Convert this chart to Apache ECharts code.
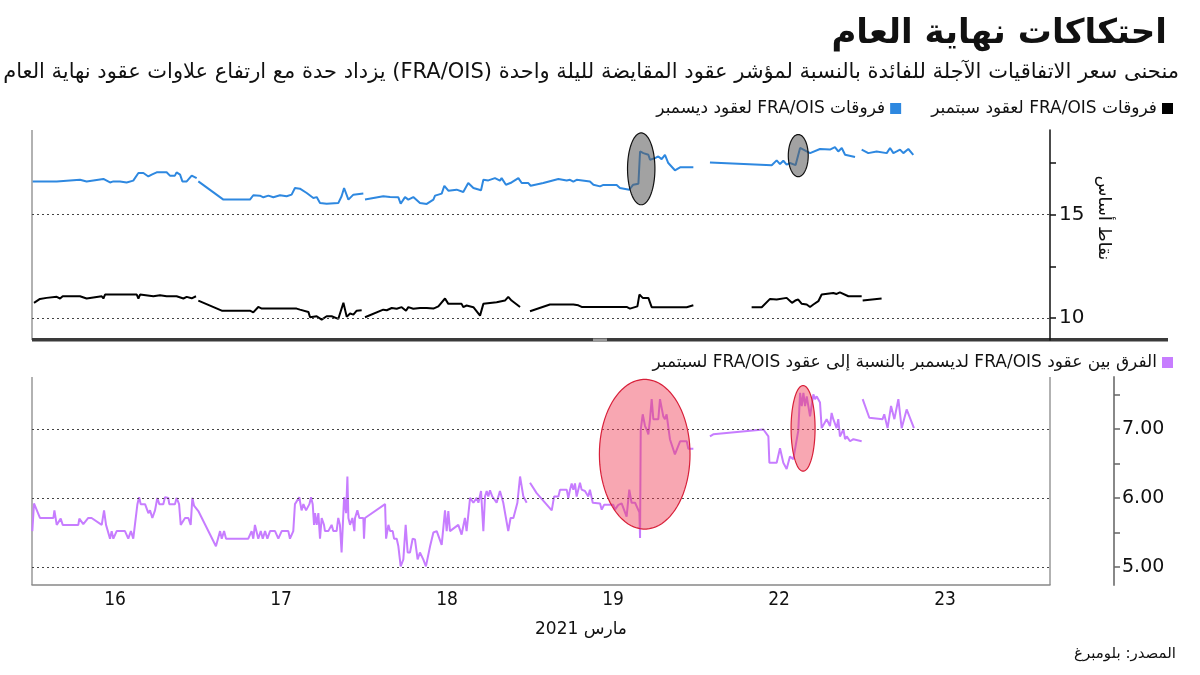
<!DOCTYPE html>
<html dir="rtl">
<head>
<meta charset="utf-8">
<script src="https://cdn.jsdelivr.net/npm/echarts@6/dist/echarts.min.js"></script>
<style>html,body{margin:0;padding:0;background:#fff}#c{width:1200px;height:675px}</style>
</head>
<body>
<div id="c"></div>
<script>
// x = trading-day index (day i spans [i, i+1]); days shown: 16,17,18,19,22,23 March 2021
const dayLabels = ['16', '17', '18', '19', '22', '23'];
const topTicks = [10, 15];
const topMinorTicks = [10, 12.5, 15, 17.5];
const bottomTicks = [5, 6, 7];
const bottomMinorTicks = [5, 5.5, 6, 6.5, 7, 7.5];

const sepName = 'فروقات FRA/OIS لعقود سبتمبر';
const decName = 'فروقات FRA/OIS لعقود ديسمبر';
const diffName = 'الفرق بين عقود FRA/OIS لديسمبر بالنسبة إلى عقود FRA/OIS لسبتمبر';

// December FRA/OIS spread (blue)
const decT = [0.004,0.129,0.139,0.149,0.289,0.329,0.430,0.470,0.490,0.530,0.570,0.610,0.641,0.671,0.701,0.721,0.751,0.811,0.831,0.861,0.871,0.892,0.906,0.932,0.962,0.992,0.996,
 1.002,1.153,1.313,1.333,1.373,1.394,1.424,1.454,1.494,1.534,1.564,1.584,1.614,1.655,1.695,1.715,1.735,1.775,1.845,1.865,1.880,1.906,1.936,1.996,2.000,
 2.006,2.116,2.157,2.207,2.221,2.247,2.267,2.297,2.337,2.378,2.418,2.428,2.468,2.484,2.508,2.558,2.598,2.628,2.659,2.705,2.719,2.749,2.789,2.819,2.829,2.855,2.889,2.930,2.950,2.990,
 3.004,3.080,3.171,3.221,3.241,3.261,3.281,3.361,3.382,3.422,3.442,3.522,3.542,3.552,3.598,3.622,3.653,3.663,3.683,3.713,3.723,3.753,3.773,3.793,3.813,3.833,3.873,3.904,3.984,3.995,
 4.084,4.456,4.486,4.506,4.526,4.546,4.566,4.600,4.627,4.637,4.687,4.747,4.807,4.837,4.857,4.878,4.898,4.958,4.975,
 4.998,5.038,5.088,5.149,5.169,5.189,5.209,5.229,5.249,5.279,5.309];
const decV = [16.61,16.61,16.69,16.61,16.69,16.61,16.73,16.56,16.61,16.61,16.56,16.65,17.02,17.02,16.85,16.94,17.05,17.05,16.89,16.89,17.05,16.94,16.61,16.61,16.89,16.77,null,
 16.61,15.73,15.73,15.94,15.92,15.84,15.92,15.84,15.94,15.89,15.97,16.29,16.26,16.05,15.81,15.85,15.56,15.53,15.56,15.89,16.29,15.73,15.97,16.02,null,
 15.73,15.89,15.85,15.84,15.53,15.85,15.73,15.85,15.56,15.52,15.73,15.92,16.02,16.40,16.16,16.21,16.10,16.53,16.29,16.18,16.69,16.66,16.77,16.65,16.77,16.45,16.56,16.77,16.53,16.53,
 16.40,16.53,16.73,16.65,16.69,16.60,16.69,16.61,16.45,16.37,16.44,16.44,16.29,16.37,16.21,16.45,16.50,18.06,17.98,17.90,17.66,17.74,17.82,17.69,17.90,17.50,17.15,17.29,17.29,null,
 17.53,17.39,17.63,17.45,17.61,17.42,17.50,17.40,18.23,18.18,17.98,18.18,18.15,18.27,18.06,18.23,17.90,17.79,null,
 18.15,17.98,18.06,17.98,18.23,17.98,18.06,18.15,17.98,18.18,17.90];

// September FRA/OIS spread (black)
const sepT = [0.012,0.048,0.088,0.149,0.169,0.185,0.289,0.329,0.420,0.430,0.440,0.631,0.641,0.651,0.731,0.771,0.811,0.871,0.912,0.932,0.962,0.988,0.995,
 1.002,1.143,1.313,1.333,1.363,1.384,1.594,1.614,1.665,1.675,1.715,1.745,1.775,1.805,1.845,1.876,1.896,1.916,1.936,1.956,1.986,1.996,
 2.006,2.116,2.137,2.167,2.197,2.227,2.253,2.267,2.297,2.337,2.378,2.418,2.448,2.488,2.508,2.588,2.598,2.618,2.659,2.699,2.719,2.799,2.849,2.869,2.889,2.940,2.950,
 3.000,3.120,3.261,3.271,3.291,3.311,3.582,3.602,3.647,3.659,3.679,3.713,3.733,3.803,3.813,3.823,3.944,3.954,3.984,3.990,
 4.335,4.396,4.446,4.486,4.546,4.578,4.598,4.616,4.636,4.667,4.687,4.707,4.737,4.757,4.827,4.847,4.867,4.918,4.998,5.000,
 5.004,5.118];
const sepV = [10.73,10.92,10.97,11.02,10.94,11.05,11.05,10.94,11.05,10.94,11.13,11.13,10.94,11.13,11.05,11.10,11.05,11.05,10.94,11.02,10.95,11.05,null,
 10.84,10.35,10.35,10.27,10.53,10.45,10.45,10.40,10.29,10.03,10.08,9.92,10.08,10.08,9.95,10.73,10.05,10.21,10.16,10.35,10.37,null,
 10.03,10.40,10.37,10.48,10.44,10.52,10.35,10.52,10.44,10.48,10.48,10.45,10.56,10.94,10.68,10.68,10.52,10.60,10.52,10.11,10.68,10.76,10.84,11.02,10.84,10.53,null,
 10.32,10.65,10.65,10.56,10.61,10.53,10.53,10.45,10.56,11.13,10.97,10.97,10.52,10.52,10.61,10.52,10.52,10.61,10.61,null,
 10.52,10.52,10.92,10.89,10.97,10.73,10.84,10.89,10.69,10.65,10.53,10.65,10.81,11.13,11.21,11.16,11.24,11.05,11.05,null,
 10.84,10.94];

// December minus September (purple)
const diffT = [0.002,0.012,0.048,0.129,0.135,0.149,0.173,0.185,0.279,0.285,0.309,0.339,0.359,0.420,0.434,0.446,0.470,0.480,0.490,0.510,0.560,0.580,0.596,0.610,0.620,0.635,0.645,0.655,0.681,0.701,0.711,0.725,0.741,0.755,0.767,0.791,0.801,0.821,0.827,0.861,0.871,0.886,0.896,0.922,0.942,0.956,0.966,0.976,
 1.002,1.108,1.133,1.143,1.157,1.169,1.303,1.323,1.333,1.343,1.363,1.378,1.390,1.404,1.418,1.434,1.464,1.484,1.504,1.544,1.554,1.574,1.584,1.594,1.610,1.624,1.635,1.651,1.671,1.681,1.691,1.699,1.705,1.715,1.725,1.735,1.745,1.759,1.765,1.785,1.805,1.815,1.835,1.845,1.855,1.865,1.880,1.892,1.900,1.906,1.916,1.930,1.942,1.946,1.960,1.972,1.996,
 2.000,2.006,2.127,2.133,2.147,2.157,2.173,2.181,2.197,2.207,2.221,2.237,2.251,2.263,2.277,2.293,2.307,2.323,2.337,2.357,2.373,2.398,2.418,2.438,2.468,2.488,2.498,2.508,2.518,2.568,2.588,2.608,2.618,2.639,2.659,2.679,2.689,2.705,2.719,2.729,2.739,2.749,2.759,2.773,2.799,2.819,2.839,2.855,2.869,2.883,2.900,2.924,2.940,2.960,2.980,2.990,
 3.000,3.040,3.131,3.145,3.171,3.181,3.221,3.231,3.241,3.251,3.261,3.271,3.281,3.301,3.311,3.331,3.351,3.361,3.378,3.422,3.432,3.446,3.502,3.512,3.532,3.552,3.582,3.598,3.612,3.633,3.659,3.663,3.667,3.679,3.693,3.703,3.713,3.723,3.733,3.743,3.773,3.783,3.803,3.813,3.823,3.843,3.873,3.904,3.944,3.954,3.984,3.990,
 4.084,4.104,4.406,4.436,4.442,4.486,4.506,4.526,4.546,4.566,4.586,4.616,4.627,4.637,4.647,4.657,4.667,4.687,4.707,4.717,4.727,4.747,4.757,4.787,4.807,4.817,4.827,4.847,4.857,4.867,4.888,4.898,4.908,4.928,4.948,4.998,5.001,
 5.004,5.044,5.124,5.134,5.154,5.175,5.195,5.219,5.239,5.269,5.313];
const diffV = [5.52,5.92,5.71,5.71,5.82,5.61,5.70,5.61,5.61,5.70,5.62,5.71,5.71,5.61,5.82,5.61,5.41,5.52,5.41,5.52,5.52,5.41,5.52,5.41,5.41,5.91,6.01,5.91,5.91,5.78,5.82,5.71,5.82,6.00,5.91,5.91,6.01,6.00,5.91,5.91,6.00,5.91,5.61,5.71,5.71,5.61,6.00,5.89,
 5.81,5.30,5.52,5.41,5.52,5.41,5.41,5.52,5.41,5.61,5.41,5.52,5.41,5.52,5.41,5.52,5.52,5.41,5.52,5.52,5.41,5.52,5.91,5.91,6.01,5.82,5.91,5.82,5.91,6.01,5.91,5.61,5.78,5.61,5.78,5.41,5.71,5.61,5.52,5.52,5.61,5.52,5.52,5.71,5.61,5.21,6.01,5.78,6.31,5.71,5.61,5.71,5.52,5.71,5.82,5.71,5.71,
 5.41,5.71,5.91,5.41,5.61,5.52,5.52,5.41,5.41,5.30,5.01,5.11,5.61,5.21,5.21,5.41,5.40,5.11,5.21,5.11,5.01,5.30,5.50,5.52,5.32,5.82,5.52,5.81,5.52,5.61,5.47,5.71,5.52,6.00,5.93,6.00,5.93,6.10,5.52,6.02,6.10,6.02,6.11,6.02,5.93,6.10,5.93,5.71,5.52,5.71,5.71,5.93,6.31,6.02,5.93,null,
 6.22,6.07,5.82,6.02,6.02,6.12,6.12,6.00,6.12,6.21,6.12,6.21,6.02,6.22,6.12,6.10,6.02,6.12,5.93,5.92,5.83,5.90,5.90,5.83,5.90,5.92,5.73,6.12,5.93,5.93,5.79,5.42,6.99,7.21,7.04,6.99,6.92,7.14,7.43,7.14,7.14,7.43,7.18,7.14,7.21,6.85,6.63,6.82,6.82,6.71,6.71,null,
 6.89,6.92,6.99,6.89,6.51,6.51,6.72,6.51,6.42,6.60,6.56,6.97,7.52,7.33,7.52,7.33,7.47,7.18,7.50,7.43,7.47,7.38,7.01,7.14,7.04,7.23,7.14,7.01,7.14,6.89,6.99,6.85,6.89,6.82,6.85,6.82,null,
 7.43,7.16,7.14,7.21,7.01,7.33,7.14,7.43,7.01,7.28,7.01];

// highlight ellipses: [centre x, centre y, radius x, radius y] in data units
const grayEllipses = [[3.670, 17.22, 0.0825, 1.74], [4.616, 17.86, 0.060, 1.02]];
const redEllipses = [[3.691, 6.632, 0.273, 1.083], [4.645, 7.007, 0.0723, 0.62]];

const zip = (T, V) => T.map((t, i) => [t, V[i] == null ? '-' : V[i]]);
const AR = 'DejaVu Sans, Noto Sans, sans-serif';
const XMAX = 6.1325;

function ellipseSeries(xi, yi, data, fill, stroke) {
  return {
    type: 'custom', xAxisIndex: xi, yAxisIndex: yi, z: 5, silent: true, data: data,
    encode: { x: 0, y: 1 },
    renderItem: function (params, api) {
      const c = api.coord([api.value(0), api.value(1)]);
      const s = api.size([api.value(2), api.value(3)]);
      const pts = [];
      for (let k = 0; k < 90; k++) {
        const a = k / 90 * Math.PI * 2;
        pts.push([c[0] + s[0] * Math.cos(a), c[1] + s[1] * Math.sin(a)]);
      }
      return { type: 'polygon', shape: { points: pts }, style: { fill: fill, stroke: stroke, lineWidth: 1.2 } };
    }
  };
}
function gridMark(vals) {
  return {
    silent: true, symbol: 'none', label: { show: false }, animation: false,
    lineStyle: { color: '#444', type: [2, 3], width: 1 },
    data: vals.map(v => ({ yAxis: v }))
  };
}

const chart = echarts.init(document.getElementById('c'));
chart.setOption({
  animation: false,
  backgroundColor: '#fff',
  title: [
    { text: 'احتكاكات نهاية العام', right: 28, top: 12, textStyle: { fontFamily: AR, fontSize: 34, fontWeight: 'bold', color: '#111' } },
    { text: 'منحنى سعر الاتفاقيات الآجلة للفائدة بالنسبة لمؤشر عقود المقايضة لليلة واحدة (FRA/OIS) يزداد حدة مع ارتفاع علاوات عقود نهاية العام', right: 16, top: 57, textStyle: { fontFamily: AR, fontSize: 21, fontWeight: 'normal', color: '#111' } },
    { text: 'مارس 2021', left: 530, top: 616, textStyle: { fontFamily: AR, fontSize: 17, fontWeight: 'normal', color: '#111' } },
    { text: 'المصدر: بلومبرغ', right: 19, top: 642, textStyle: { fontFamily: AR, fontSize: 15, fontWeight: 'normal', color: '#111' } }
  ],
  legend: [
    { data: [decName, sepName], right: 22, top: 95, align: 'right', icon: 'rect', itemWidth: 11, itemHeight: 11, itemGap: 30,
      textStyle: { fontFamily: AR, fontSize: 17, color: '#111' } },
    { data: [diffName], right: 22, top: 349, align: 'right', icon: 'rect', itemWidth: 11, itemHeight: 11,
      textStyle: { fontFamily: AR, fontSize: 17, color: '#111' } }
  ],
  grid: [
    { left: 32, top: 130, width: 1018, height: 210 },
    { left: 32, top: 377, width: 1018, height: 208 }
  ],
  xAxis: [
    { gridIndex: 0, type: 'value', min: 0, max: XMAX, show: false, splitLine: { show: false } },
    { gridIndex: 1, type: 'value', min: 0, max: XMAX,
      axisLine: { show: true, onZero: false, lineStyle: { color: '#888', width: 1.5 } },
      axisTick: { show: false }, splitLine: { show: false },
      axisLabel: { customValues: dayLabels.map((d, i) => i + 0.5), formatter: v => dayLabels[Math.floor(v)],
        fontFamily: 'Liberation Sans Narrow, DejaVu Sans Condensed, sans-serif', fontSize: 19, color: '#111', margin: 6 } }
  ],
  yAxis: [
    { gridIndex: 0, type: 'value', position: 'right', min: 8.93, max: 19.1,
      axisLine: { show: true, onZero: false, lineStyle: { color: '#111', width: 1.5 } },
      axisTick: { show: true, length: 6, customValues: topMinorTicks, lineStyle: { color: '#111', width: 1.5 } },
      axisLabel: { customValues: topTicks, fontFamily: 'DejaVu Sans, sans-serif', fontSize: 20, color: '#111', margin: 9 },
      splitLine: { show: false } },
    { gridIndex: 1, type: 'value', position: 'right', offset: 64, min: 4.74, max: 7.75,
      axisLine: { show: true, onZero: false, lineStyle: { color: '#888', width: 2 } },
      axisTick: { show: true, length: 6, customValues: bottomMinorTicks, lineStyle: { color: '#666', width: 1.5 } },
      axisLabel: { customValues: bottomTicks, formatter: v => v.toFixed(2), fontFamily: 'DejaVu Sans, sans-serif', fontSize: 19, color: '#111', margin: 8 },
      splitLine: { show: false } }
  ],
  series: [
    { name: sepName, type: 'line', xAxisIndex: 0, yAxisIndex: 0, data: zip(sepT, sepV), showSymbol: false, z: 3,
      color: '#000', lineStyle: { color: '#000', width: 2 }, markLine: gridMark(topTicks) },
    { name: decName, type: 'line', xAxisIndex: 0, yAxisIndex: 0, data: zip(decT, decV), showSymbol: false, z: 3,
      color: '#2e88e0', lineStyle: { color: '#2e88e0', width: 2 } },
    { name: diffName, type: 'line', xAxisIndex: 1, yAxisIndex: 1, data: zip(diffT, diffV), showSymbol: false, z: 3,
      color: '#c77dff', lineStyle: { color: '#c77dff', width: 2 }, markLine: gridMark(bottomTicks) },
    ellipseSeries(0, 0, grayEllipses, 'rgba(95,95,95,0.58)', '#111'),
    ellipseSeries(1, 1, redEllipses, 'rgba(240,60,85,0.45)', '#d8203a')
  ],
  graphic: [
    { type: 'line', shape: { x1: 32, y1: 130, x2: 32, y2: 340 }, style: { stroke: '#999', lineWidth: 1.5 }, silent: true },
    { type: 'line', shape: { x1: 32, y1: 377, x2: 32, y2: 585 }, style: { stroke: '#999', lineWidth: 1.5 }, silent: true },
    { type: 'line', shape: { x1: 1050, y1: 377, x2: 1050, y2: 585 }, style: { stroke: '#999', lineWidth: 1.5 }, silent: true },
    { type: 'rect', shape: { x: 32, y: 338, width: 1136, height: 3.5 }, style: { fill: '#3a3a3a' }, silent: true },
    { type: 'rect', shape: { x: 593, y: 338.5, width: 14, height: 2.5 }, style: { fill: '#9a9a9a' }, silent: true },
    { type: 'text', x: 1103, y: 218, rotation: -Math.PI / 2, silent: true,
      style: { text: 'نقاط أساس', fontFamily: AR, fontSize: 17, fill: '#111', align: 'center', verticalAlign: 'middle' } }
  ]
});
</script>
</body>
</html>
